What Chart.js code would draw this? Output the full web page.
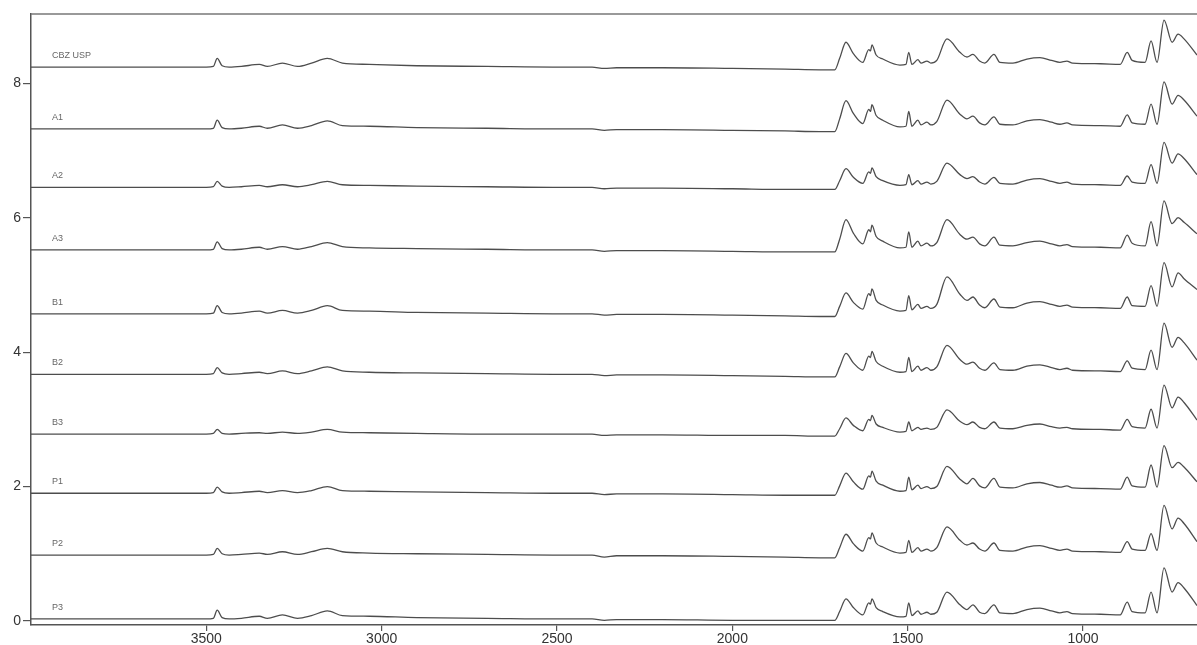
<!DOCTYPE html>
<html>
<head>
<meta charset="utf-8">
<script src="https://cdn.jsdelivr.net/npm/chart.js@4.4.1/dist/chart.umd.min.js"></script>
<style>
html,body{margin:0;padding:0;background:#fff;}
#wrap{width:1197px;height:645px;position:relative;}
</style>
</head>
<body>
<div id="wrap"><canvas id="c"></canvas></div>
<script>
// Wavenumbers (cm-1) shared by all spectra
const wavenumbers = [4000,3600,3500,3480,3469,3455,3435,3400,3349,3326,3283,3240,3200,3155,3112,3035,2900,2700,2500,2400,2365,2330,2200,2000,1850,1750,1708,1694,1676,1655,1628,1611,1606,1602,1590,1571,1522,1505,1497,1488,1471,1462,1445,1434,1417,1388,1351,1331,1314,1295,1280,1254,1237,1200,1160,1123,1090,1066,1046,1030,950,894,874,860,823,806,789,769,746,729,712,675];

// Trace names and vertical offsets (stacked display)
const names = ['CBZ USP','A1','A2','A3','B1','B2','B3','P1','P2','P3'];
const offsets = [8.24,7.32,6.45,5.52,4.57,3.67,2.78,1.90,0.98,0.03];

// Absorbance above each trace's baseline
const cbzUsp = [0,0,0,.01,.13,.02,0,.01,.04,.01,.06,.01,.06,.13,.06,.04,.02,.01,0,0,-.02,-.01,-.01,-.02,-.03,-.04,-.04,.13,.37,.20,.07,.26,.24,.33,.18,.12,.03,.04,.22,.04,.11,.06,.09,.06,.10,.42,.22,.15,.19,.09,.06,.19,.07,.06,.12,.14,.10,.07,.09,.06,.05,.04,.22,.10,.07,.39,.07,.70,.37,.49,.42,.18];
const a1 = [0,0,0,.01,.13,.02,0,.01,.04,.01,.06,.01,.05,.12,.05,.04,.02,.01,0,0,-.02,-.01,-.01,-.02,-.03,-.04,-.04,.15,.42,.23,.08,.29,.26,.36,.20,.13,.03,.04,.26,.04,.13,.06,.10,.06,.11,.43,.22,.15,.19,.09,.06,.18,.07,.06,.12,.14,.10,.07,.09,.06,.05,.04,.21,.09,.07,.37,.07,.70,.37,.50,.43,.19];
const a2 = [0,0,0,.01,.09,.02,0,.01,.03,.01,.04,.01,.04,.09,.04,.03,.02,.01,0,0,-.02,-.01,-.01,-.02,-.03,-.03,-.03,.10,.28,.15,.06,.23,.21,.29,.16,.10,.03,.04,.19,.04,.10,.05,.08,.05,.09,.36,.19,.13,.16,.08,.05,.15,.06,.05,.11,.13,.09,.06,.08,.05,.04,.03,.17,.08,.06,.34,.06,.67,.36,.50,.43,.19];
const a3 = [0,0,0,.01,.12,.02,0,.01,.04,.01,.05,.01,.05,.11,.05,.03,.02,.01,0,0,-.02,-.01,-.01,-.02,-.03,-.03,-.03,.16,.45,.25,.09,.30,.27,.37,.20,.13,.03,.04,.27,.04,.13,.06,.10,.06,.11,.45,.23,.16,.19,.09,.06,.19,.07,.06,.11,.13,.09,.06,.08,.05,.04,.03,.22,.10,.06,.42,.06,.73,.39,.48,.41,.24];
const b1 = [0,0,0,.01,.12,.02,0,.01,.04,.01,.05,.01,.05,.12,.05,.04,.02,.01,0,0,-.02,-.01,-.01,-.02,-.03,-.04,-.04,.11,.31,.17,.07,.30,.27,.37,.20,.13,.04,.05,.27,.06,.14,.08,.11,.08,.14,.55,.29,.20,.25,.13,.09,.22,.10,.09,.16,.18,.14,.11,.13,.10,.09,.08,.25,.12,.11,.42,.11,.76,.40,.61,.52,.36];
const b2 = [0,0,0,.01,.10,.02,0,.01,.03,.01,.05,.01,.05,.11,.05,.03,.02,.01,0,0,-.02,-.01,-.01,-.02,-.03,-.04,-.04,.11,.31,.17,.06,.27,.25,.34,.19,.12,.03,.04,.25,.04,.12,.06,.10,.06,.11,.43,.22,.15,.18,.09,.06,.17,.07,.06,.12,.14,.10,.07,.09,.06,.05,.04,.20,.09,.07,.36,.07,.76,.40,.55,.47,.21];
const b3 = [0,0,0,.01,.07,.01,0,.01,.02,.01,.03,.01,.03,.07,.03,.02,.01,0,0,0,-.02,-.01,-.01,-.02,-.02,-.03,-.03,.08,.24,.13,.05,.22,.20,.28,.15,.10,.03,.04,.18,.05,.10,.07,.09,.07,.10,.36,.19,.14,.18,.10,.08,.18,.09,.08,.13,.15,.11,.09,.10,.08,.07,.06,.22,.11,.09,.37,.09,.73,.39,.55,.47,.21];
const p1 = [0,0,0,.01,.09,.02,0,.01,.03,.01,.04,.01,.04,.10,.04,.03,.02,.01,0,0,-.02,-.01,-.01,-.02,-.03,-.03,-.03,.11,.30,.17,.06,.26,.24,.33,.18,.12,.03,.04,.24,.05,.12,.07,.10,.07,.10,.40,.21,.14,.22,.11,.08,.22,.09,.08,.14,.16,.12,.09,.11,.08,.07,.06,.24,.11,.09,.42,.09,.71,.38,.46,.39,.17];
const p2 = [0,0,0,.01,.10,.02,0,.01,.03,.01,.05,.01,.05,.10,.05,.03,.02,.01,0,0,-.03,-.01,-.01,-.02,-.03,-.04,-.04,.11,.31,.17,.06,.26,.24,.33,.18,.12,.03,.04,.22,.04,.11,.06,.09,.06,.11,.42,.22,.15,.18,.09,.06,.18,.07,.06,.12,.14,.10,.07,.09,.06,.05,.04,.20,.09,.07,.32,.07,.74,.39,.55,.47,.20];
const p3 = [0,0,0,.01,.13,.02,0,.01,.04,.01,.06,.01,.05,.12,.05,.04,.02,.01,0,0,-.02,-.01,-.01,-.02,-.02,-.02,-.02,.11,.30,.17,.06,.24,.22,.30,.17,.11,.03,.04,.24,.05,.12,.07,.10,.07,.10,.40,.21,.14,.21,.10,.08,.21,.09,.08,.14,.16,.12,.09,.11,.08,.07,.06,.25,.11,.09,.40,.09,.76,.40,.54,.46,.20];

const series = [cbzUsp,a1,a2,a3,b1,b2,b3,p1,p2,p3];

// Axis ticks
const xTicks = [3500,3000,2500,2000,1500,1000];
const yTicks = [0,2,4,6,8];
const labelWavenumber = 3940;

const lineColor = '#4d4d4d';
const axisColor = '#555555';
const fontFamily = '"Liberation Sans", Arial, sans-serif';

const datasets = series.map((vals,i)=>({
  label: names[i],
  data: wavenumbers.map((w,j)=>({x:w, y:offsets[i]+vals[j]})),
  borderColor: lineColor,
  borderWidth: 1.3,
  pointRadius: 0,
  fill: false,
  cubicInterpolationMode: 'monotone'
}));

const traceLabels = {
  id: 'traceLabels',
  afterDatasetsDraw(chart){
    const ctx = chart.ctx, xs = chart.scales.x, ys = chart.scales.y;
    ctx.save();
    ctx.font = '9px ' + fontFamily;
    ctx.fillStyle = '#666';
    ctx.textAlign = 'left';
    ctx.textBaseline = 'middle';
    names.forEach((n,i)=>{
      ctx.fillText(n, xs.getPixelForValue(labelWavenumber), ys.getPixelForValue(offsets[i]+0.17));
    });
    ctx.restore();
  }
};

const topFrame = {
  id: 'topFrame',
  afterDraw(chart){
    const a = chart.chartArea, ctx = chart.ctx;
    ctx.save();
    ctx.strokeStyle = '#777';
    ctx.lineWidth = 1.5;
    ctx.beginPath();
    ctx.moveTo(a.left, a.top);
    ctx.lineTo(a.right, a.top);
    ctx.stroke();
    ctx.restore();
  }
};

new Chart(document.getElementById('c'), {
  type: 'line',
  data: { datasets },
  options: {
    responsive: true,
    maintainAspectRatio: false,
    animation: false,
    layout: { padding: { top: 14, left: 0, right: 0, bottom: 0 } },
    plugins: { legend: { display: false }, tooltip: { enabled: false } },
    scales: {
      x: {
        type: 'linear',
        reverse: true,
        min: 675,
        max: 4000,
        afterFit(s){ s.height = 20; },
        afterBuildTicks(s){ s.ticks = xTicks.map(v=>({value:v})); },
        ticks: { color: '#333', font: { size: 14, family: fontFamily }, padding: 0, maxRotation: 0, autoSkip: false, callback: v => String(v) },
        grid: { drawOnChartArea: false, drawTicks: true, tickLength: 6, color: axisColor, lineWidth: 1.2 },
        border: { display: true, color: axisColor, width: 1.5 }
      },
      y: {
        type: 'linear',
        min: -0.06,
        max: 9.03,
        afterFit(s){ s.width = 31; },
        afterBuildTicks(s){ s.ticks = yTicks.map(v=>({value:v})); },
        ticks: { color: '#333', font: { size: 14, family: fontFamily }, padding: 2, callback: v => String(v) },
        grid: { drawOnChartArea: false, drawTicks: true, tickLength: 8, color: axisColor, lineWidth: 1.2 },
        border: { display: true, color: axisColor, width: 1.5 }
      }
    }
  },
  plugins: [traceLabels, topFrame]
});
</script>
</body>
</html>
